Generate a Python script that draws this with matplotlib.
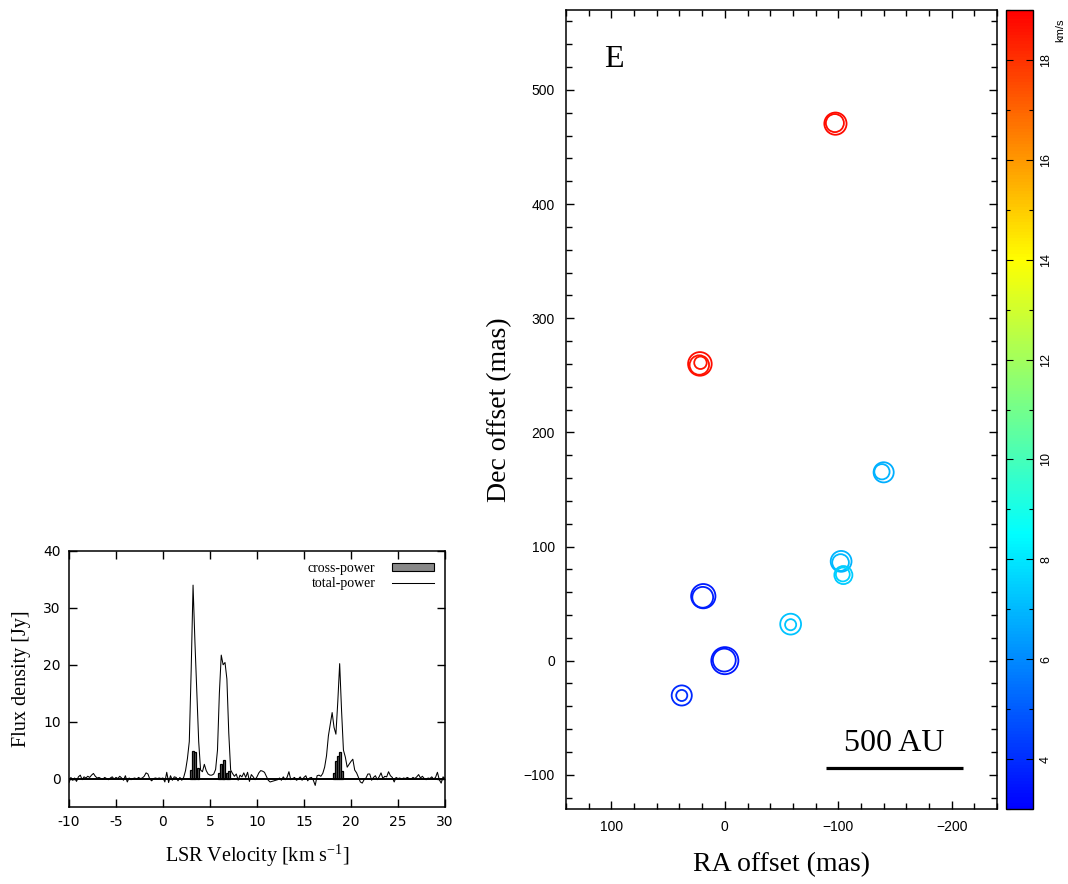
import numpy as np
import matplotlib
matplotlib.use('Agg')
import matplotlib.pyplot as plt
from matplotlib.colors import LinearSegmentedColormap, Normalize
from matplotlib.cm import ScalarMappable
from matplotlib.patches import Patch
from matplotlib.lines import Line2D
from matplotlib.ticker import MultipleLocator, FormatStrFormatter

plt.rcParams['mathtext.default'] = 'regular'

# total-power spectrum, 0.2 km/s channels from -10 to 30 km/s
vel_start, vel_step = -10.0, 0.2
total_power = [
    -0.7, 0.2, -0.3, 0.1, -0.5, 0.3, 0.6, -0.2, 0.3, 0.1,      # -10 .. -8.2
    0.4, 0.2, 0.6, 0.9, 0.4, 0.1, 0.2, 0.0, -0.1, 0.2,         # -8 .. -6.2
    0.0, -0.2, 0.1, 0.3, -0.1, 0.2, 0.0, 0.4, 0.1, -0.3,       # -6 .. -4.2
    0.5, -0.6, 0.1, -0.2, 0.0, 0.1, -0.1, 0.2, 0.0, 0.1,       # -4 .. -2.2
    0.4, 1.0, 0.8, -0.1, -0.4, 0.0, 0.1, 0.0, 0.1, 0.0,        # -2 .. -0.2
    0.1, -0.6, 1.1, -0.7, 0.5, -0.3, 0.3, 0.2, -0.4, 0.2,      # 0 .. 1.8
    -0.3, 0.2, 1.4, 3.5, 6.5, 19.0, 34.0, 24.0, 15.0, 6.5,     # 2 .. 3.8
    1.5, 1.2, 2.5, 1.4, 0.8, 0.6, 0.6, 0.8, 1.6, 5.0,          # 4 .. 5.8
    15.0, 21.7, 20.0, 20.4, 17.5, 8.0, 1.5, 0.9, 0.4, 0.8,     # 6 .. 7.8
    -0.3, 0.6, 0.3, 1.0, 0.2, 1.1, -0.5, 0.7, 0.3, -0.2,       # 8 .. 9.8
    0.3, 1.0, 1.4, 1.3, 1.1, 0.4, -0.3, -0.6, -0.5, -0.4,      # 10 .. 11.8
    -0.3, -0.2, 0.1, -0.3, 0.3, -0.2, 0.2, 1.2, -0.2, 0.0,     # 12 .. 13.8
    0.2, -0.3, -0.1, 0.3, -0.3, 0.2, 0.5, -0.4, 0.1, 0.2,      # 14 .. 15.8
    -0.3, -1.2, 0.5, 0.6, 0.4, 0.9, 2.0, 4.0, 7.5, 9.5,        # 16 .. 17.8
    11.6, 9.0, 7.8, 13.5, 20.2, 12.0, 5.0, 3.8, 2.0, 2.5,      # 18 .. 19.8
    3.0, 3.4, 1.5, 1.0, 0.2, -0.6, -0.8, -0.2, 0.1, 0.8,       # 20 .. 21.8
    0.8, -0.3, 0.2, 0.5, -0.2, 0.3, 1.0, 0.0, 0.4, 0.3,        # 22 .. 23.8
    1.2, 0.5, 0.2, -0.6, 0.2, 0.0, 0.1, -0.1, 0.1, 0.0,        # 24 .. 25.8
    0.2, 0.0, -0.1, 0.2, 0.0, 0.3, 0.7, 0.1, 0.4, 0.0,         # 26 .. 27.8
    -0.2, 0.1, 0.0, 0.3, -0.1, 0.2, 1.1, -0.2, -0.8, 0.3,      # 28 .. 29.8
    0.0,                                                       # 30
]
tp_velocity = vel_start + vel_step * np.arange(len(total_power))

# cross-power (VLBI detected) channels
cp_velocity = [2.96, 3.17, 3.40, 3.68,
               5.96, 6.17, 6.35, 6.52, 6.77, 7.05,
               18.20, 18.40, 18.60, 18.83, 19.02]
cp_flux = [1.5, 4.8, 4.6, 1.8,
           0.9, 2.5, 2.3, 3.2, 1.0, 1.4,
           0.9, 3.0, 3.9, 4.6, 1.3]

# maser spots: RA offset, Dec offset (mas), LSR velocity (km/s), ring size (pt)
spot_ra = [-97.5, -97.0, 22.0, 22.5, 21.5, -140.0, -138.5, -102.5, -102.0,
           -104.5, -104.0, 19.0, 19.5, -58.0, -58.0, 0.0, 0.5, 38.0, 38.0]
spot_dec = [470.5, 471.0, 260.0, 259.0, 261.0, 165.0, 165.5, 87.0, 86.0,
            75.0, 75.5, 56.5, 55.5, 32.0, 31.5, 0.0, 0.5, -30.5, -30.5]
spot_vlsr = [18.8, 18.7, 18.7, 18.6, 18.5, 6.8, 6.9, 6.9, 7.0,
             7.4, 7.5, 3.6, 3.7, 7.2, 7.3, 3.5, 3.6, 3.9, 4.0]
spot_size = [16, 13, 17, 14, 9, 14.5, 11, 15, 12,
             13, 10, 17.5, 15, 15, 8, 19.5, 16.5, 14.5, 8]

cbar_ticks = [4, 6, 8, 10, 12, 14, 16, 18]

serif = 'Liberation Serif'

fig = plt.figure(figsize=(10.68, 8.84), dpi=100)

# ---------------- spectrum ----------------
ax1 = fig.add_axes([0.0646, 0.0871, 0.352, 0.2896])
ax1.bar(cp_velocity, cp_flux, width=0.22, color='#666666', edgecolor='black',
        linewidth=0.9, zorder=2)
ax1.axhline(0, color='black', lw=1.4, zorder=3)
ax1.plot(tp_velocity, total_power, color='black', lw=0.75, zorder=4)
ax1.set_xlim(-10, 30)
ax1.set_ylim(-5, 40)
ax1.xaxis.set_major_locator(MultipleLocator(5))
ax1.yaxis.set_major_locator(MultipleLocator(10))
ax1.xaxis.set_major_formatter(FormatStrFormatter('%d'))
ax1.yaxis.set_major_formatter(FormatStrFormatter('%d'))
ax1.tick_params(direction='in', top=True, right=True, length=6, width=1,
                labelsize=10, pad=6)
for lab in ax1.get_xticklabels() + ax1.get_yticklabels():
    lab.set_family('DejaVu Sans')
for s in ax1.spines.values():
    s.set_linewidth(1.1)
ax1.set_xlabel(r'LSR Velocity [km s$^{\mathregular{-1}}$]', family=serif,
               fontsize=14.5, labelpad=10)
ax1.set_ylabel('Flux density [Jy]', family=serif, fontsize=14.5, labelpad=9)
handles = [Patch(facecolor='#888888', edgecolor='black', linewidth=0.8),
           Line2D([], [], color='black', lw=0.75)]
ax1.legend(handles, ['cross-power', 'total-power'], loc='upper right',
           frameon=False, markerfirst=False, handlelength=3.0, handleheight=0.55,
           prop={'family': serif, 'size': 10}, borderaxespad=0.4,
           labelspacing=0.15, handletextpad=1.2)

# ---------------- spot map ----------------
cmap = LinearSegmentedColormap.from_list(
    'vel', [(0.0, '#0000ff'), (0.344, '#00ffff'), (0.6875, '#ffff00'), (1.0, '#ff0000')])
norm = Normalize(3, 19)

ax2 = fig.add_axes([0.530, 0.0848, 0.4036, 0.9038])
ax2.scatter(spot_ra, spot_dec, s=np.array(spot_size) ** 2, facecolors='none',
            edgecolors=cmap(norm(np.array(spot_vlsr))), linewidths=1.3, zorder=3)
ax2.set_xlim(140, -240)
ax2.set_ylim(-130, 570)
ax2.xaxis.set_major_locator(MultipleLocator(100))
ax2.xaxis.set_minor_locator(MultipleLocator(20))
ax2.yaxis.set_major_locator(MultipleLocator(100))
ax2.yaxis.set_minor_locator(MultipleLocator(20))
ax2.tick_params(which='both', direction='in', top=True, right=True, width=1)
ax2.tick_params(which='major', length=6, labelsize=10, pad=8)
ax2.tick_params(which='minor', length=4)
for lab in ax2.get_xticklabels() + ax2.get_yticklabels():
    lab.set_family('Liberation Sans')
for s in ax2.spines.values():
    s.set_linewidth(1.1)
ax2.set_xlabel('RA offset (mas)', family=serif, fontsize=20, labelpad=13)
ax2.set_ylabel('Dec offset (mas)', family=serif, fontsize=20, labelpad=8)
ax2.text(98, 520, 'E', family=serif, fontsize=23, ha='center', va='baseline')
ax2.plot([-89, -210], [-94, -94], color='black', lw=2.3, solid_capstyle='butt')
ax2.text(-149.5, -79, '500 AU', family=serif, fontsize=23, ha='center', va='baseline')

# ---------------- colour bar ----------------
cax = fig.add_axes([0.942, 0.0848, 0.0253, 0.9038])
sm = ScalarMappable(norm=norm, cmap=cmap)
cb = fig.colorbar(sm, cax=cax, ticks=cbar_ticks)
cb.outline.set_linewidth(1.0)
cax.yaxis.set_minor_locator(MultipleLocator(1))
cax.tick_params(which='both', direction='in', left=True, right=True, width=0.8,
                color='black')
cax.tick_params(which='major', length=5, labelsize=9, labelrotation=90, pad=5)
cax.tick_params(which='minor', length=3)
for lab in cax.get_yticklabels():
    lab.set_family('Liberation Sans')
    lab.set_va('center')
cax.text(2.0, 0.99, 'km/s', transform=cax.transAxes, rotation=90,
         fontsize=8, family='Liberation Sans', ha='center', va='top')

fig.savefig('out.png', dpi=100)
